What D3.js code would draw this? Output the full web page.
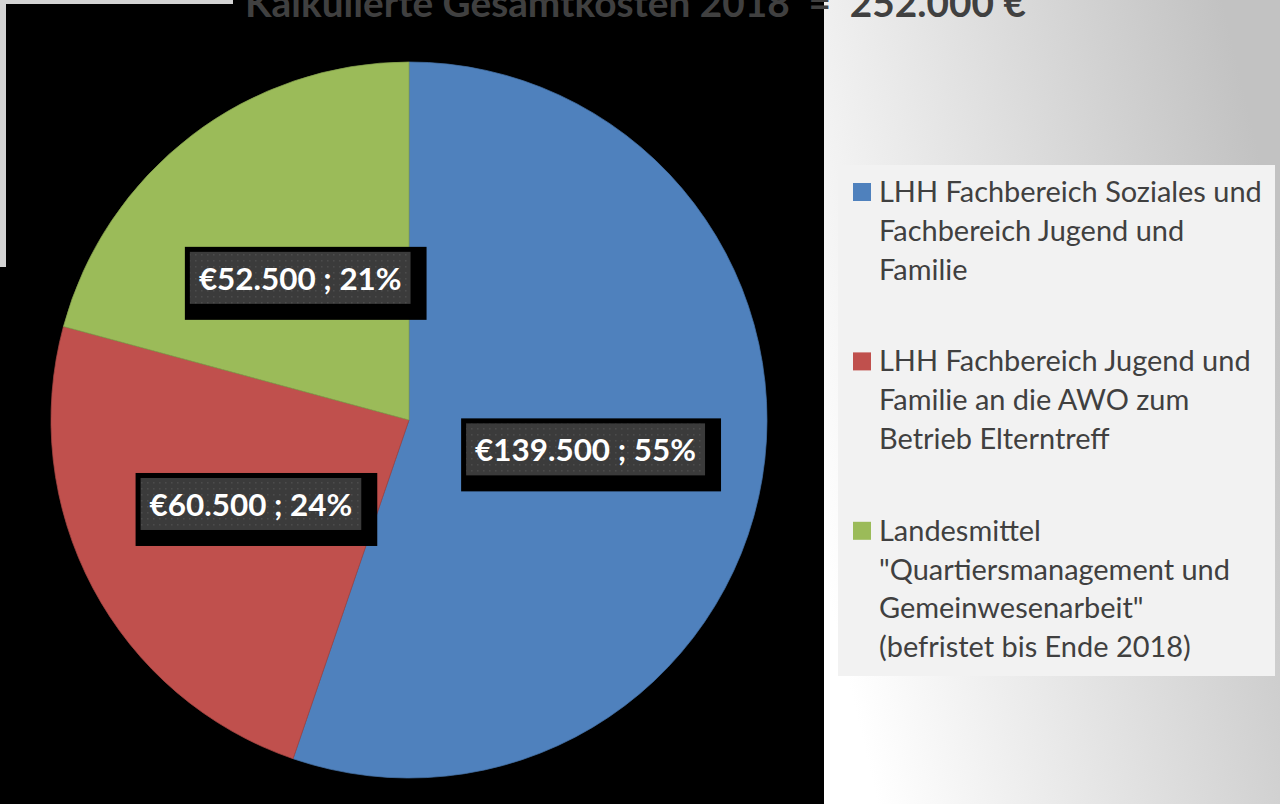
<!DOCTYPE html>
<html>
<head>
<meta charset="utf-8">
<script src="https://cdn.jsdelivr.net/npm/d3@7"></script>
<style>
  body { margin: 0; background: #000; }
  svg { display: block; }
</style>
</head>
<body>
<div id="chart"></div>
<script>
// data
const titleText = 'Kalkulierte Gesamtkosten 2018  =  252.000 €';
const categories = [
  'LHH Fachbereich Soziales und Fachbereich Jugend und Familie',
  'LHH Fachbereich Jugend und Familie an die AWO zum Betrieb Elterntreff',
  'Landesmittel "Quartiersmanagement und Gemeinwesenarbeit" (befristet bis Ende 2018)'
];
const legendLines = [
  ['LHH Fachbereich Soziales und', 'Fachbereich Jugend und', 'Familie'],
  ['LHH Fachbereich Jugend und', 'Familie an die AWO zum', 'Betrieb Elterntreff'],
  ['Landesmittel', '"Quartiersmanagement und', 'Gemeinwesenarbeit"', '(befristet bis Ende 2018)']
];
const values = [139500, 60500, 52500];
const colors = ['#4f81bd', '#c0504d', '#9bbb59'];

const W = 1280, H = 804;
const cx = 409, cy = 420, radius = 358;

const svg = d3.select('#chart').append('svg')
  .attr('width', W)
  .attr('height', H);

const defs = svg.append('defs');
const grad = defs.append('linearGradient')
  .attr('id', 'bgGrad')
  .attr('x1', '0').attr('y1', '0.72')
  .attr('x2', '1').attr('y2', '0.3');
grad.append('stop').attr('offset', '0').attr('stop-color', '#ffffff');
grad.append('stop').attr('offset', '1').attr('stop-color', '#c2c2c2');

const dots = defs.append('pattern')
  .attr('id', 'dots')
  .attr('width', 6).attr('height', 6)
  .attr('patternUnits', 'userSpaceOnUse');
dots.append('rect').attr('width', 6).attr('height', 6).attr('fill', '#3b3b3b');
dots.append('rect').attr('x', 2).attr('y', 2).attr('width', 1.5).attr('height', 1.5).attr('fill', '#4c4c4c');

// background pieces
svg.append('rect').attr('width', W).attr('height', H).attr('fill', '#000');
svg.append('rect').attr('x', 0).attr('y', 0).attr('width', 233).attr('height', 4).attr('fill', '#d4d4d4');
svg.append('rect').attr('x', 0).attr('y', 0).attr('width', 6).attr('height', 267).attr('fill', '#d4d4d4');
svg.append('rect').attr('x', 824).attr('y', 0).attr('width', W - 824).attr('height', H).attr('fill', 'url(#bgGrad)');

// fit a text element to a target width
function fitWidth(sel, target) {
  const w = sel.node().getComputedTextLength();
  const fs = parseFloat(sel.attr('font-size'));
  sel.attr('font-size', fs * target / w);
}

// title (cut off at top like in the source)
const title = svg.append('text')
  .attr('x', 635.5)
  .attr('y', 17)
  .attr('text-anchor', 'middle')
  .attr('font-family', 'Lato, "Open Sans", sans-serif')
  .attr('font-weight', 'bold')
  .attr('font-size', 36)
  .attr('fill', '#404040')
  .style('white-space', 'pre')
  .text(titleText);
fitWidth(title, 781);

// pie
const total = d3.sum(values);
const pie = d3.pie().sort(null).value(d => d);
const arc = d3.arc().innerRadius(0).outerRadius(radius);
const arcs = pie(values);

const g = svg.append('g').attr('transform', `translate(${cx},${cy})`);

g.selectAll('.slice')
  .data(arcs)
  .enter()
  .append('path')
  .attr('class', 'slice')
  .attr('d', arc)
  .attr('fill', (d, i) => colors[i])
  .attr('stroke', (d, i) => d3.color(colors[i]).darker(0.4))
  .attr('stroke-width', 0.75);

// data labels
const fmt = v => '€' + d3.format(',')(v).replace(/,/g, '.');
const labelText = d => `${fmt(d.value)} ; ${Math.round(d.value / total * 100)}%`;

const labels = g.selectAll('.lbl')
  .data(arcs)
  .enter()
  .append('g')
  .attr('class', 'lbl');

const lblTexts = labels.append('text')
  .attr('text-anchor', 'middle')
  .attr('font-family', 'Lato, "Open Sans", sans-serif')
  .attr('font-weight', 'bold')
  .attr('font-size', 30)
  .attr('fill', '#ffffff')
  .text(labelText);

// one font size for all labels, from the widest one
const t0 = d3.select(lblTexts.nodes()[0]);
fitWidth(t0, 221);
lblTexts.attr('font-size', t0.attr('font-size'));

labels.each(function (d) {
  const grp = d3.select(this);
  const [px, py] = arc.centroid(d);
  const txt = grp.select('text');
  const tw = txt.node().getComputedTextLength();
  const bw = tw + 18, bh = 52;
  const bx = px - bw / 2, by = py - bh / 2;
  grp.insert('rect', 'text')
    .attr('x', bx - 5).attr('y', by - 5)
    .attr('width', bw + 21).attr('height', bh + 21)
    .attr('fill', '#000');
  grp.insert('rect', 'text')
    .attr('x', bx).attr('y', by)
    .attr('width', bw).attr('height', bh)
    .attr('fill', 'url(#dots)');
  txt.attr('x', px).attr('y', by + 38);
});

// legend
const legend = svg.append('g').attr('class', 'legend');
legend.append('rect')
  .attr('x', 838).attr('y', 165)
  .attr('width', 437).attr('height', 511)
  .attr('fill', '#f2f2f2');

const lineH = 38.8;
const itemGap = 53;
let yPos = 202;
const starts = legendLines.map(lines => {
  const s = yPos;
  yPos += lines.length * lineH + itemGap;
  return s;
});

const items = legend.selectAll('.legend-item')
  .data(categories)
  .enter()
  .append('g')
  .attr('class', 'legend-item')
  .attr('transform', (d, i) => `translate(0,${starts[i]})`);

items.append('rect')
  .attr('x', 853).attr('y', -19)
  .attr('width', 18).attr('height', 18)
  .attr('fill', (d, i) => colors[i]);

const legTexts = items.append('text')
  .attr('font-family', 'Lato, "Open Sans", sans-serif')
  .attr('font-size', 26)
  .attr('fill', '#404040');

legTexts.selectAll('tspan')
  .data((d, i) => legendLines[i])
  .enter()
  .append('tspan')
  .attr('x', 879)
  .attr('y', (d, j) => j * lineH)
  .text(d => d);

// size legend font from the first line
const probe = svg.append('text')
  .attr('font-family', 'Lato, "Open Sans", sans-serif')
  .attr('font-size', 26)
  .text(legendLines[0][0]);
fitWidth(probe, 383);
legTexts.attr('font-size', probe.attr('font-size'));
probe.remove();
</script>
</body>
</html>
